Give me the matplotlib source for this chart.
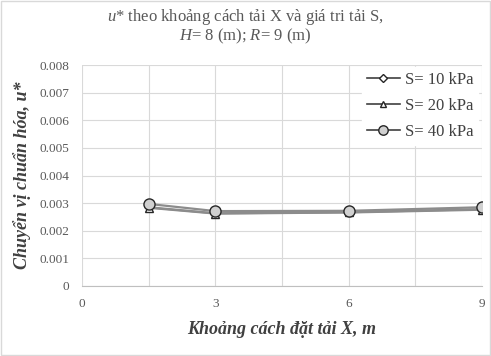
import matplotlib
matplotlib.use("Agg")
import matplotlib.pyplot as plt
from matplotlib.ticker import FuncFormatter, MultipleLocator

plt.rcParams['font.family'] = ['Liberation Serif', 'DejaVu Serif']
plt.rcParams['mathtext.fontset'] = 'custom'
plt.rcParams['mathtext.rm'] = 'Liberation Serif'
plt.rcParams['mathtext.it'] = 'Liberation Serif:italic'

# data
x = [1.5, 3, 6, 9]
s10 = [0.00285, 0.00263, 0.00267, 0.00278]
s20 = [0.00283, 0.00262, 0.00266, 0.00276]
s40 = [0.00297, 0.00271, 0.00272, 0.00285]
labels = ["S= 10 kPa", "S= 20 kPa", "S= 40 kPa"]

fig = plt.figure(figsize=(4.91, 3.56), dpi=100)
ax = fig.add_axes([0.167, 0.197, 0.815, 0.62])

line_c = '#8c8c8c'
edge_c = '#262626'
ax.plot(x, s10, color=line_c, lw=1.6, marker='D', ms=4.5, mfc='white', mec=edge_c, mew=1, label=labels[0])
ax.plot(x, s20, color=line_c, lw=1.6, marker='^', ms=5.5, mfc='white', mec=edge_c, mew=1, label=labels[1])
ax.plot(x, s40, color=line_c, lw=1.6, marker='o', ms=8, mfc='#d0d0d0', mec=edge_c, mew=1, label=labels[2])

ax.set_xlim(0, 9)
ax.set_ylim(0, 0.008)
ax.xaxis.set_major_locator(MultipleLocator(3))
ax.xaxis.set_minor_locator(MultipleLocator(1.5))
ax.yaxis.set_major_locator(MultipleLocator(0.001))
ax.yaxis.set_major_formatter(FuncFormatter(lambda v, p: '0' if abs(v) < 1e-9 else '%.3f' % v))
ax.grid(True, which='both', color='#d9d9d9', lw=0.8)
ax.set_axisbelow(True)
ax.tick_params(which='both', length=0, colors='#595959', labelsize=9.5, pad=9)
for side in ['top', 'right', 'left']:
    ax.spines[side].set_visible(False)
ax.spines['bottom'].set_color('#bfbfbf')

ax.set_xlabel("Khoảng cách đặt tải X, m", fontsize=13, fontweight='bold', fontstyle='italic', color='#404040', labelpad=8)
ax.set_ylabel("Chuyển vị chuẩn hóa, u*", fontsize=13, fontweight='bold', fontstyle='italic', color='#404040', labelpad=6)

fig.text(0.5, 0.952, "$u$* theo khoảng cách tải X và giá tri tải S,", ha='center', va='center', fontsize=12, color='#595959')
fig.text(0.5, 0.898, "$H$= 8 (m); $R$= 9 (m)", ha='center', va='center', fontsize=12, color='#595959')

leg = ax.legend(loc='upper right', frameon=True, fontsize=12, handlelength=2.0, handletextpad=0.3,
                borderaxespad=0.1, borderpad=0.3, labelspacing=0.6, markerscale=0.85,
                bbox_to_anchor=(0.995, 1.0))
leg.get_frame().set_edgecolor('white')
leg.get_frame().set_facecolor('white')
leg.get_frame().set_alpha(1)
for t in leg.get_texts():
    t.set_color('#404040')
for h in leg.get_lines():
    h.set_linewidth(1.2)
    h.set_color('#404040')

fig.patches.append(plt.Rectangle((0.002, 0.002), 0.996, 0.996, transform=fig.transFigure, fill=False, edgecolor='#d9d9d9', lw=1))

fig.savefig("out.png", dpi=100)
